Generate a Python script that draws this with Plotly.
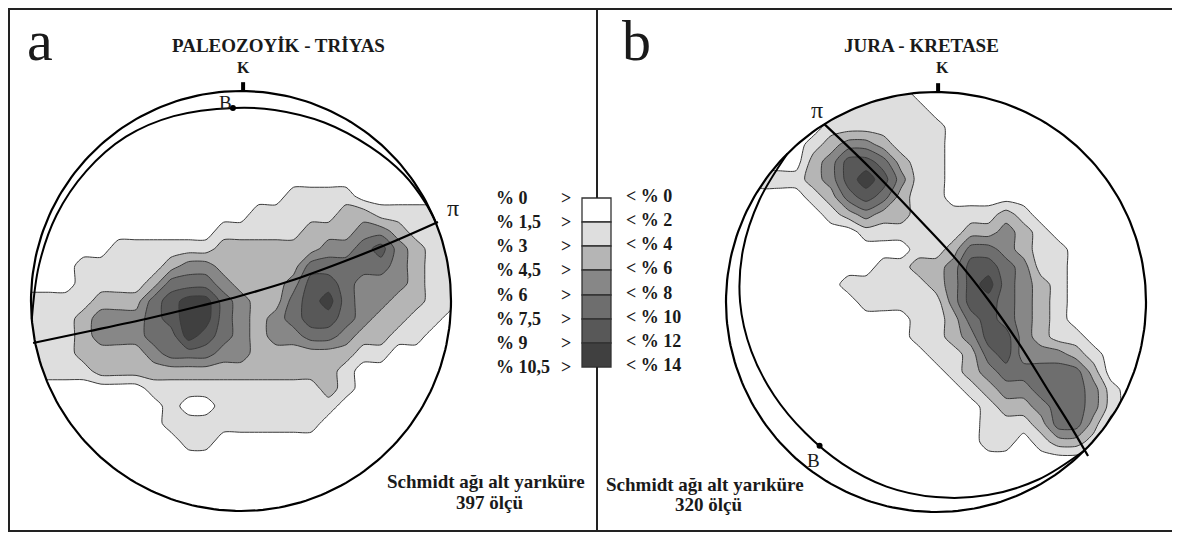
import numpy as np
import plotly.graph_objects as go

# ---------------- data ----------------
band_colors = ["#ffffff", "#dedede", "#b5b5b5", "#878787", "#6e6e6e", "#585858", "#404040"]
labels_a = ["% 0", "% 1,5", "% 3", "% 4,5", "% 6", "% 7,5", "% 9", "% 10,5"]
labels_b = ["< % 0", "< % 2", "< % 4", "< % 6", "< % 8", "< % 10", "< % 12", "< % 14"]

# density class (0..6) on a 25 x 25 grid across the net, row 0 = north edge
density_a = [
    "0000000000000000000000000",
    "0000000000000000000000000",
    "0000000000000000000000000",
    "0000000000000000000000000",
    "0000000000000000000000000",
    "0000000000000000000000000",
    "0000000000000001111000000",
    "0000000000000111112211111",
    "0000000000011111222332111",
    "0000011111122222233453211",
    "0001111123322222444443211",
    "0001111244432223554333211",
    "1111222456643224564332211",
    "1112333456643234554322110",
    "1112333446543233443221100",
    "1112222344433222222110000",
    "1111222222222222221000000",
    "0000000111111111121000000",
    "0000000010011111110000000",
    "0000000011111111100000000",
    "0000000001100000000000000",
    "0000000000000000000000000",
    "0000000000000000000000000",
    "0000000000000000000000000",
    "0000000000000000000000000",
]
density_b = [
    "0000000111100000000000000",
    "0000000111110000000000000",
    "0000001111111000000000000",
    "0000012332111000000000000",
    "0000023554211000000000000",
    "0011123565311000000000000",
    "0000012454211000000000000",
    "0000001232211111210000000",
    "0000000011111122321000000",
    "0000000000011244321100000",
    "0000000001122355431100000",
    "0000000111112356432100000",
    "0000000011111355432100000",
    "0000000000011245432100000",
    "0000000000011235532110000",
    "0000000000001124533321000",
    "0000000000000123444442000",
    "0000000000000012334443100",
    "0000000000000001223443100",
    "0000000000000001112442000",
    "0000000000000001101221000",
    "0000000000000000000000000",
    "0000000000000000000000000",
    "0000000000000000000000000",
    "0000000000000000000000000",
]

# pi great circles (net units)
pi_a_x = [-0.990, -0.719, -0.433, -0.195, -0.005, 0.233, 0.471, 0.710, 0.938]
pi_a_y = [-0.200, -0.143, -0.081, -0.024, 0.024, 0.095, 0.181, 0.276, 0.376]
pi_b_x = [-0.533, -0.314, -0.100, 0.090, 0.257, 0.400, 0.533, 0.638, 0.724]
pi_b_y = [0.848, 0.638, 0.414, 0.210, 0.000, -0.205, -0.419, -0.586, -0.733]

# B great circles: azimuth (deg) and radial distance (net units)
gc_a_az = [265, 280, 295, 310, 325, 340, 358, 10, 25, 40, 52, 62, 68]
gc_a_r = [1.0, 0.977, 0.969, 0.962, 0.955, 0.937, 0.920, 0.924, 0.938, 0.958, 0.982, 0.995, 1.0]
gc_b_az = [315, 300, 285, 270, 255, 240, 225, 210, 195, 180, 165, 150, 135]
gc_b_r = [1.0, 0.971, 0.952, 0.933, 0.910, 0.890, 0.881, 0.890, 0.910, 0.929, 0.952, 0.976, 1.0]

# B axis points (azimuth deg, radius)
B_a = (357.6, 0.920)
B_b = (219.0, 0.881)

# ---------------- figure ----------------
# the page body has an 8 px margin, so the figure is drawn 8 px in from the window edge
OFF = 8
W, H = 1180 - OFF, 533 - OFF
R = 210.0
FONT = "Liberation Serif"
fig = go.Figure()

n = len(density_a)
grid = np.linspace(-1, 1, n)

stops = []
for k, col in enumerate(band_colors):
    lo = max(0.0, (2 * k - 1) / 12)
    hi = min(1.0, (2 * k + 1) / 12)
    stops += [[lo, col], [hi, col]]


def to_z(rows):
    return [[int(ch) for ch in r] for r in rows[::-1]]


def add_net(xa, ya, dens, pix, piy, gaz, gr, bpt):
    fig.add_trace(go.Contour(
        z=to_z(dens), x=grid, y=grid, xaxis=xa, yaxis=ya,
        contours=dict(start=0.5, end=5.5, size=1, coloring="fill", showlines=True),
        line=dict(color="#3a3a3a", width=1, smoothing=0.7),
        colorscale=stops, showscale=False, hoverinfo="skip"))
    t = np.linspace(0, 2 * np.pi, 241)
    # white mask outside the primitive circle
    fig.add_trace(go.Scatter(
        x=np.concatenate([1.18 * np.cos(t), np.cos(t[::-1])]),
        y=np.concatenate([1.18 * np.sin(t), np.sin(t[::-1])]),
        fill="toself", fillcolor="white", line=dict(width=0, color="white"),
        mode="lines", xaxis=xa, yaxis=ya, hoverinfo="skip", showlegend=False))
    # primitive circle
    fig.add_trace(go.Scatter(x=np.cos(t), y=np.sin(t), mode="lines",
                             line=dict(color="black", width=2.2),
                             xaxis=xa, yaxis=ya, hoverinfo="skip", showlegend=False))
    # B great circle
    az = np.radians(gaz)
    fig.add_trace(go.Scatter(x=np.array(gr) * np.sin(az), y=np.array(gr) * np.cos(az),
                             mode="lines", line=dict(color="black", width=2, shape="spline"),
                             xaxis=xa, yaxis=ya, hoverinfo="skip", showlegend=False))
    # pi great circle
    fig.add_trace(go.Scatter(x=pix, y=piy, mode="lines",
                             line=dict(color="black", width=2.2, shape="spline"),
                             xaxis=xa, yaxis=ya, hoverinfo="skip", showlegend=False))
    # B point
    ba = np.radians(bpt[0])
    fig.add_trace(go.Scatter(x=[bpt[1] * np.sin(ba)], y=[bpt[1] * np.cos(ba)], mode="markers",
                             marker=dict(color="black", size=6),
                             xaxis=xa, yaxis=ya, hoverinfo="skip", showlegend=False))
    # north tick
    fig.add_trace(go.Scatter(x=[0.01, 0.01], y=[1.0, 1.042], mode="lines",
                             line=dict(color="black", width=4),
                             xaxis=xa, yaxis=ya, hoverinfo="skip", showlegend=False))


add_net("x", "y", density_a, pi_a_x, pi_a_y, gc_a_az, gc_a_r, B_a)
add_net("x2", "y2", density_b, pi_b_x, pi_b_y, gc_b_az, gc_b_r, B_b)


def px(x, y):
    """window pixel -> paper fraction"""
    return (x - OFF) / W, 1 - (y - OFF) / H


ann = []


def text(x, y, s, size, bold=False, xanchor="center", ref=None, color="#1a1a1a"):
    if ref is None:
        xx, yy = px(x, y)
        xr, yr = "paper", "paper"
    else:
        xx, yy = x, y
        xr, yr = ref
    ann.append(dict(x=xx, y=yy, xref=xr, yref=yr, text=("<b>%s</b>" % s) if bold else s,
                    showarrow=False, xanchor=xanchor, yanchor="middle",
                    font=dict(family=FONT, size=size, color=color)))


text(40, 41, "a", 58)
text(636, 41, "b", 58)
text(278, 45, "PALEOZOYİK - TRİYAS", 19, bold=True)
text(922, 45, "JURA - KRETASE", 19, bold=True)
text(0.01, 1.113, "K", 16, bold=True, ref=("x", "y"))
text(0.03, 1.116, "K", 16, bold=True, ref=("x2", "y2"))
text(-0.075, 0.945, "B", 19, ref=("x", "y"))
text(-0.585, -0.755, "B", 19, ref=("x2", "y2"))
text(1.01, 0.445, "π", 24, ref=("x", "y"))
text(-0.565, 0.915, "π", 24, ref=("x2", "y2"))
text(486, 482, "Schmidt ağı alt yarıküre", 19, bold=True)
text(489, 502, "397 ölçü", 19, bold=True)
text(705, 484, "Schmidt ağı alt yarıküre", 19, bold=True)
text(708, 504, "320 ölçü", 19, bold=True)

edges = [198, 222, 246, 270, 295, 319, 343, 367]
for i, lab in enumerate(labels_a):
    text(494, edges[i], lab, 18, bold=True, xanchor="left")
    text(566, edges[i], "&gt;", 18, bold=True)
for i, lab in enumerate(labels_b):
    text(624, edges[i] - 2, lab, 18, bold=True, xanchor="left")

shapes = []
for k in range(7):
    x0, y0 = px(582, edges[k])
    x1, y1 = px(611, edges[k + 1])
    shapes.append(dict(type="rect", xref="paper", yref="paper", x0=x0, x1=x1, y0=y1, y1=y0,
                       fillcolor=band_colors[k], line=dict(color="#333", width=1.3), layer="above"))
fx0, fy0 = px(9, 531)
fx1, fy1 = px(1174, 9)
shapes.append(dict(type="rect", xref="paper", yref="paper", x0=fx0, x1=fx1, y0=fy0, y1=fy1,
                   line=dict(color="#222", width=2), layer="above"))
dx, _ = px(597, 0)
for ya, yb in [(9, 198), (367, 531)]:
    _, y0 = px(0, ya)
    _, y1 = px(0, yb)
    shapes.append(dict(type="line", xref="paper", yref="paper", x0=dx, x1=dx,
                       y0=y0, y1=y1, line=dict(color="#222", width=2), layer="above"))

# net placement (window px of each net centre)
ca = (241 - OFF, 301 - OFF)
cb = (936 - OFF, 302 - OFF)
split = 590 - OFF
ax = dict(visible=False, fixedrange=True)
fig.update_layout(
    width=W, height=H, margin=dict(l=0, r=0, t=0, b=0),
    paper_bgcolor="white", plot_bgcolor="rgba(0,0,0,0)", showlegend=False,
    xaxis=dict(ax, domain=[0, split / W], range=[-ca[0] / R, (split - ca[0]) / R]),
    yaxis=dict(ax, domain=[0, 1], range=[(ca[1] - H) / R, ca[1] / R]),
    xaxis2=dict(ax, domain=[split / W, 1], range=[(split - cb[0]) / R, (W - cb[0]) / R], anchor="y2"),
    yaxis2=dict(ax, domain=[0, 1], range=[(cb[1] - H) / R, cb[1] / R], anchor="x2"),
    annotations=ann, shapes=shapes,
)
fig.write_html("out.html")
